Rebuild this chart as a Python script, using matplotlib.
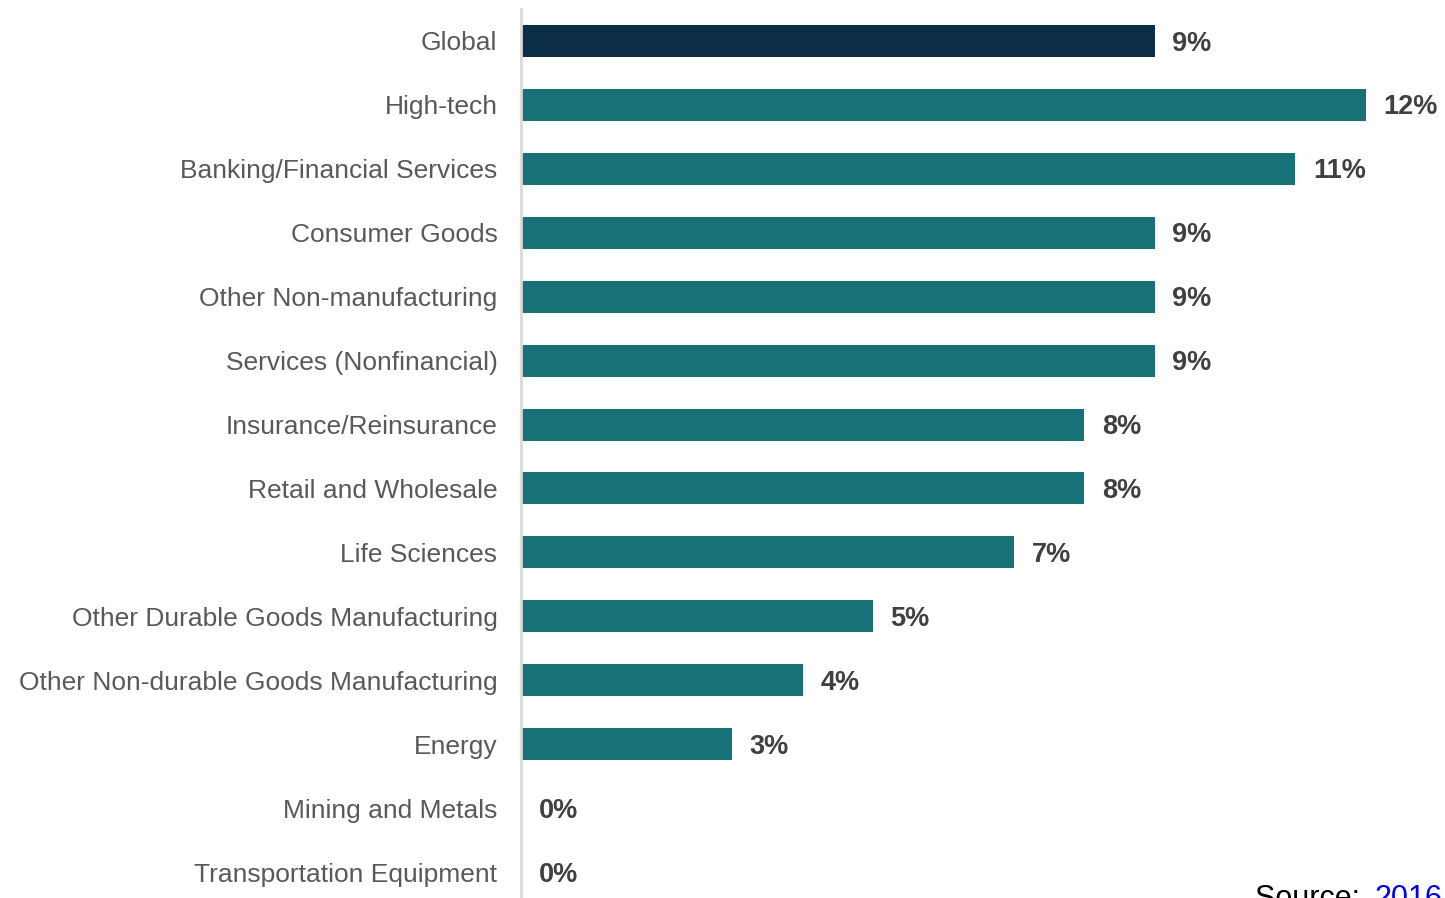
import matplotlib
matplotlib.use('Agg')
import matplotlib.pyplot as plt

plt.rcParams['font.family'] = ['Liberation Sans', 'DejaVu Sans']

categories = [
    'Global', 'High-tech', 'Banking/Financial Services', 'Consumer Goods',
    'Other Non-manufacturing', 'Services (Nonfinancial)', 'Insurance/Reinsurance',
    'Retail and Wholesale', 'Life Sciences', 'Other Durable Goods Manufacturing',
    'Other Non-durable Goods Manufacturing', 'Energy', 'Mining and Metals',
    'Transportation Equipment',
]
values = [9, 12, 11, 9, 9, 9, 8, 8, 7, 5, 4, 3, 0, 0]
value_labels = [f'{v}%' for v in values]

NAVY = '#0b2d45'
TEAL = '#177278'
colors = [NAVY] + [TEAL] * (len(values) - 1)

W, H = 1445, 898
fig = plt.figure(figsize=(W / 100, H / 100), dpi=100)
ax = fig.add_axes([521 / W, 0, (W - 521) / W, 1 - 9 / H])

y = list(range(len(categories)))
ax.barh(y, values, height=0.5, color=colors)
for yi, v, lab in zip(y, values, value_labels):
    ax.text(v + 0.25, yi + 0.04, lab, va='center', ha='left',
            fontsize=19.5, fontweight='bold', color='#404040')

ax.set_xlim(0, (W - 521) / 70.4)
ax.set_ylim(13 + 26 / 64, -0.5)
ax.set_yticks(y)
ax.set_yticklabels(categories, fontsize=19, color='#595959')
ax.tick_params(axis='y', length=0, pad=17)
ax.set_xticks([])
for side in ['top', 'right', 'bottom']:
    ax.spines[side].set_visible(False)
ax.spines['left'].set_color('#d9d9d9')
ax.spines['left'].set_linewidth(2)

fig.text(1255 / W, 1 - 884 / H, 'Source: ', fontsize=22, color='black', va='top', ha='left')
fig.text(1374 / W, 1 - 884 / H, '2016', fontsize=22, color='#0000ee', va='top', ha='left')

fig.savefig('out.png', dpi=100)
